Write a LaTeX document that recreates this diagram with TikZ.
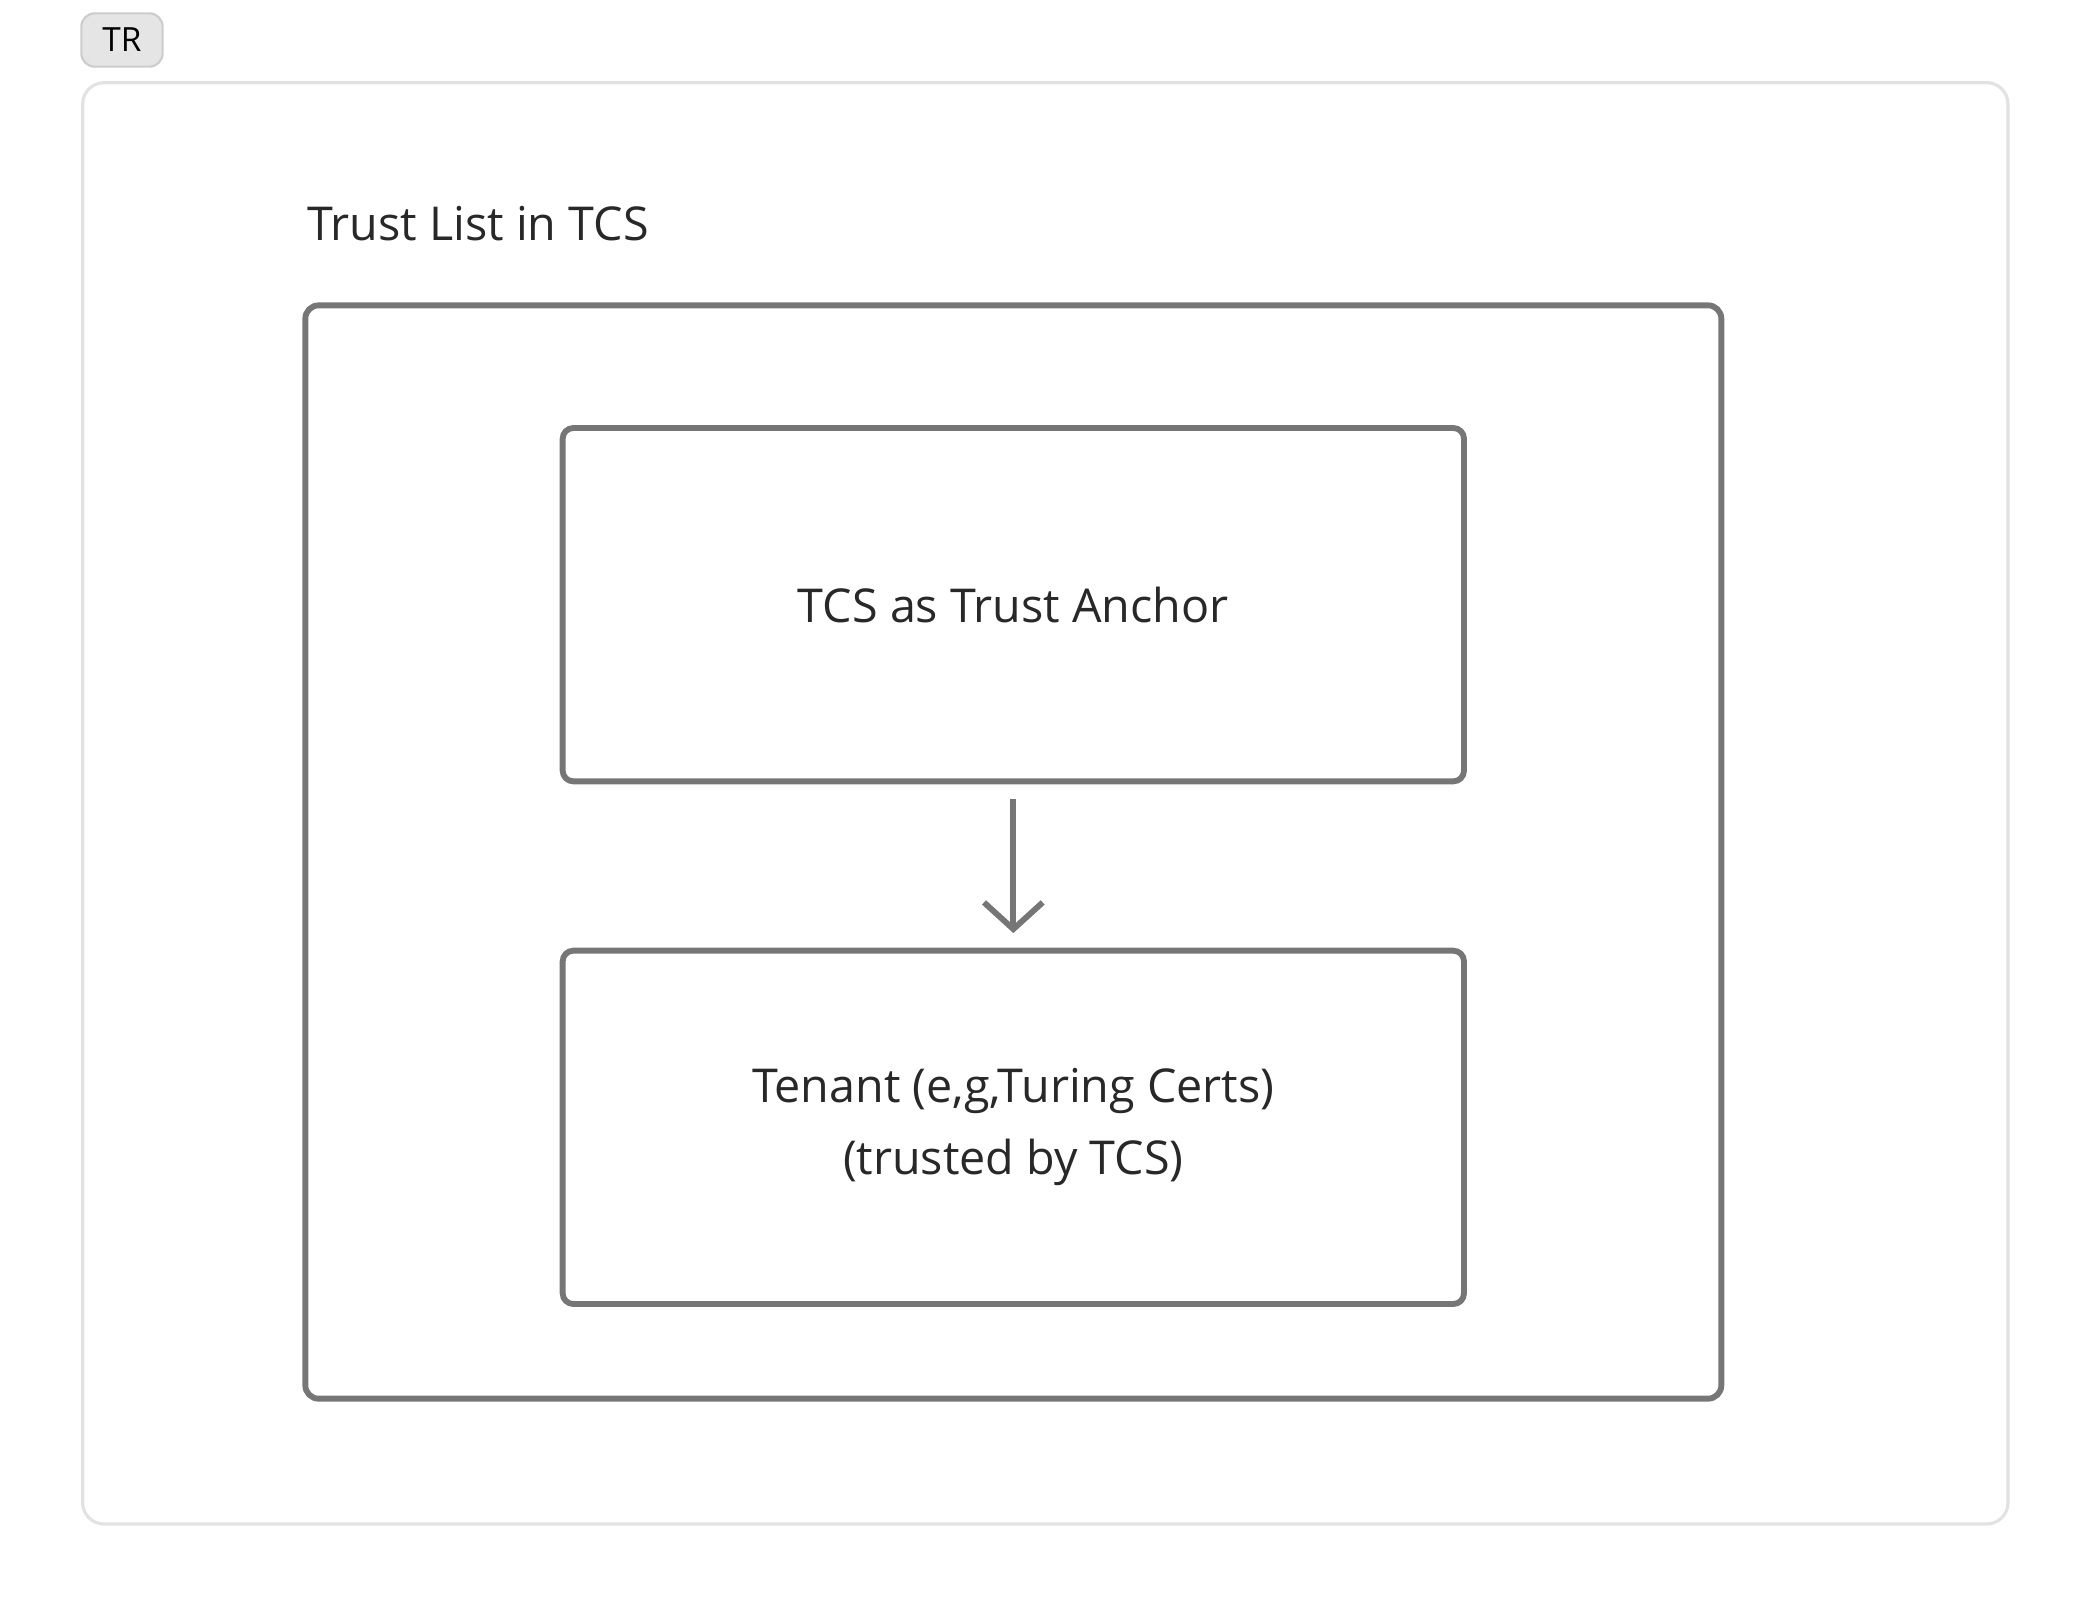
\documentclass[tikz,border=0pt]{standalone}
\usepackage{fontspec}
\setmainfont{Open Sans}
\usetikzlibrary{arrows.meta}
\usetikzlibrary{positioning}
\definecolor{boxgray}{RGB}{118,118,118}
\definecolor{framegray}{RGB}{226,226,226}
\definecolor{txtgray}{RGB}{40,40,40}
\tikzset{
  trbox/.style={draw=boxgray, line width=2.2pt, rounded corners=4pt, minimum width=338pt, minimum height=132.5pt, align=center, text=txtgray, font=\fontsize{17.5}{27}\selectfont},
  flow/.style={draw=boxgray, line width=2.2pt, -{Straight Barb[length=10pt,width=22pt,line width=2.2pt]}}
}
\begin{document}
\begin{tikzpicture}[x=0.5pt,y=0.5pt,yscale=-1,xscale=1]
\useasboundingbox (0,0) rectangle (1560,1200);

% badge
\node [draw=black!20, fill=black!10, rounded corners=5pt, line width=0.8pt, minimum width=30.5pt, minimum height=20pt, inner sep=0pt, font=\fontsize{12.5}{14}\selectfont] (badge) at (91.5,30) {TR};
% frame
\draw [framegray, line width=1.2pt, rounded corners=8pt] (62,62) rectangle (1506,1143);

% Text Node
\node [anchor=west, inner sep=0pt, text=txtgray, font=\fontsize{17.5}{20}\selectfont] (title) at (230,168) {Trust List in TCS};

% container
\draw [boxgray, line width=2.2pt, rounded corners=5pt] (229,229) rectangle (1291,1049);

\node [trbox] (anchor) at (760,453.5) {TCS as Trust Anchor};
\node [trbox] (tenant) at (760,845.5) {Tenant (e,g,Turing Certs)\\(trusted by TCS)};

\draw [flow] ([yshift=5.5pt]anchor.south) -- ([yshift=-5.5pt]tenant.north);

\end{tikzpicture}
\end{document}
